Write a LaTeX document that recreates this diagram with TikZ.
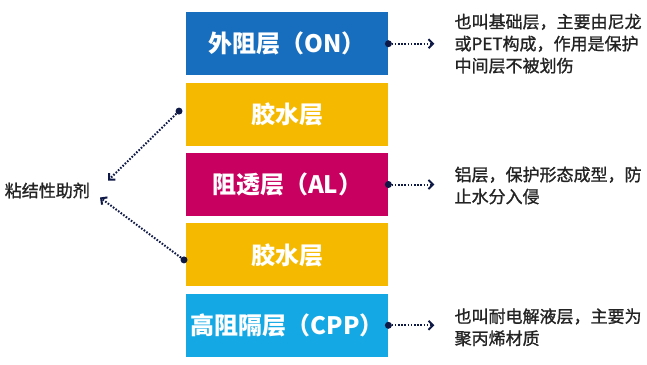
\documentclass[tikz,border=0pt]{standalone}
\usepackage{fontspec}
\newfontfamily\cjk{Noto Sans CJK SC}
\newfontfamily\cjkdesc[FakeBold=1.2]{Noto Sans CJK SC}
\usepackage{xcolor}
\usetikzlibrary{arrows.meta, positioning}

\definecolor{onblue}{RGB}{24,110,190}
\definecolor{glueyellow}{RGB}{245,185,0}
\definecolor{almagenta}{RGB}{200,0,95}
\definecolor{cppblue}{RGB}{20,168,228}
\definecolor{arrnavy}{RGB}{15,25,70}
\definecolor{desctext}{RGB}{35,35,35}

\begin{document}
\begin{tikzpicture}[x=1pt, y=-1pt,
  layer/.style={minimum height=63pt, minimum width=202pt, inner sep=0pt, align=center,
    text=white, font=\cjk\bfseries\fontsize{24}{26}\selectfont},
  desc/.style={inner sep=0pt, align=left, text=desctext, font=\cjkdesc\fontsize{17}{22}\selectfont},
  dotarr/.style={arrnavy, line width=2pt, dash pattern=on 1.6pt off 1.6pt,
    -{Straight Barb[length=4.5pt, width=9pt, line width=2pt]}},
  pin/.style={circle, fill=arrnavy, inner sep=0pt, minimum size=7pt}
]
  \useasboundingbox (0,0) rectangle (647,364);

  % layer stack
  \node[layer, fill=onblue, anchor=north west] (on) at (186,12) {外阻层（ON）};
  \node[layer, fill=glueyellow, below=7pt of on] (glue1) {胶水层};
  \node[layer, fill=almagenta, below=7pt of glue1] (al) {阻透层（AL）};
  \node[layer, fill=glueyellow, below=7pt of al] (glue2) {胶水层};
  \node[layer, fill=cppblue, below=7pt of glue2] (cpp) {高阻隔层（CPP）};

  % notes on the right
  \node[desc, right=66pt of on] (on-d) {也叫基础层，主要由尼龙\\或PET构成，作用是保护\\中间层不被划伤};
  \node[desc, right=66pt of al, yshift=-1pt] (al-d) {铝层，保护形态成型，防\\止水分入侵};
  \node[desc, right=66pt of cpp, yshift=-2pt] (cpp-d) {也叫耐电解液层，主要为\\聚丙烯材质};

  \draw[dotarr, shorten >=20pt] (on.east) -- (on-d.west |- on.east);
  \draw[dotarr, shorten >=20pt] (al.east) -- (al-d.west |- al.east);
  \draw[dotarr, shorten >=20pt] (cpp.east) -- (cpp-d.west |- cpp.east);
  \node[pin] (on-p) at (on.east) {};
  \node[pin] (al-p) at (al.east) {};
  \node[pin] (cpp-p) at (cpp.east) {};

  % adhesive on the left
  \node[desc, left=96pt of al, yshift=-6pt] (adh) {粘结性助剂};
  \coordinate (adh-t1) at ([xshift=18pt, yshift=10pt]adh.east);
  \coordinate (adh-t2) at ([xshift=10pt, yshift=-7pt]adh.east);
  \node[pin] (glue1-p) at ([xshift=-7pt, yshift=3pt]glue1.west) {};
  \node[pin] (glue2-p) at ([xshift=-2pt, yshift=-5pt]glue2.west) {};

  \draw[dotarr] (glue1-p) -- (adh-t1);
  \draw[dotarr] (glue2-p) -- (adh-t2);
\end{tikzpicture}
\end{document}
